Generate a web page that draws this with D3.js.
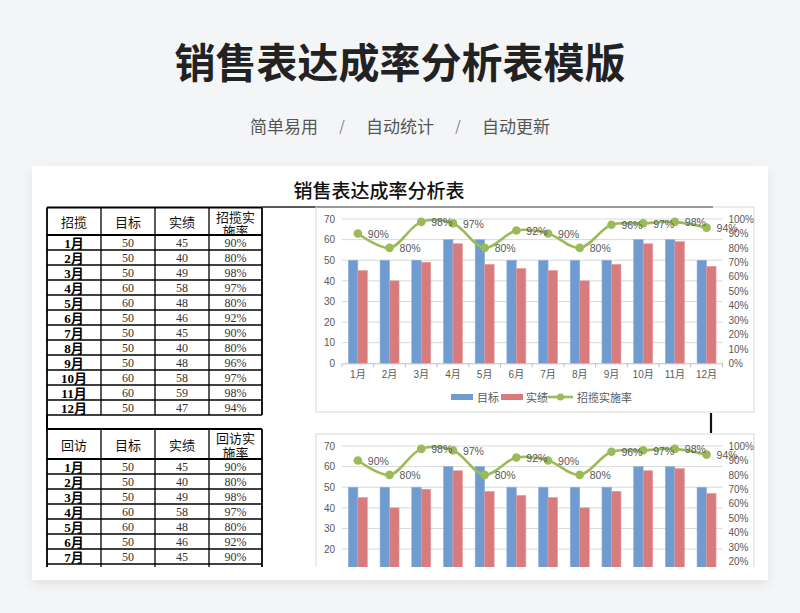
<!DOCTYPE html>
<html>
<head>
<meta charset="utf-8">
<script src="https://cdn.jsdelivr.net/npm/d3@7"></script>
<style>
  html, body { margin: 0; padding: 0; background: #f4f5f7; }
  svg { display: block; }
</style>
</head>
<body>
<svg id="page" width="800" height="613"></svg>
<script>
// ---- data ----
var months = ["1月","2月","3月","4月","5月","6月","7月","8月","9月","10月","11月","12月"];
var target = [50, 50, 50, 60, 60, 50, 50, 50, 50, 60, 60, 50];
var actual = [45, 40, 49, 58, 48, 46, 45, 40, 48, 58, 59, 47];
var rate   = [90, 80, 98, 97, 80, 92, 90, 80, 96, 97, 98, 94];
var leftTicks  = [0, 10, 20, 30, 40, 50, 60, 70];
var rightTicks = [0, 10, 20, 30, 40, 50, 60, 70, 80, 90, 100];
var head1 = ["招揽", "目标", "实绩", ["招揽实", "施率"]];
var head2 = ["回访", "目标", "实绩", ["回访实", "施率"]];
var series1 = ["目标", "实绩", "招揽实施率"];
var series2 = ["目标", "实绩", "回访实施率"];
var subtitleParts = ["简单易用", "/", "自动统计", "/", "自动更新"];

var sans = "'Liberation Sans', 'Noto Sans CJK SC', sans-serif",
    serif = "'Liberation Serif', 'Noto Sans CJK SC', serif",
    cjk = "'Noto Sans CJK SC', sans-serif",
    blue = "#709bd1", red = "#d87b7c", green = "#9bbb59", grey = "#595959",
    shotBottom = 567;   // the spreadsheet picture is cut off here

var svg = d3.select("#page");
var defs = svg.append("defs");

defs.append("filter").attr("id", "shadow")
    .attr("x", "-5%").attr("y", "-5%").attr("width", "110%").attr("height", "115%")
  .append("feDropShadow")
    .attr("dx", 0).attr("dy", 4).attr("stdDeviation", 6)
    .attr("flood-color", "#000").attr("flood-opacity", 0.08);

defs.append("clipPath").attr("id", "shot")
  .append("rect").attr("x", 32).attr("y", 166).attr("width", 736).attr("height", shotBottom - 166);

// ---- page header ----
svg.append("text")
    .attr("x", 400).attr("y", 60)
    .attr("text-anchor", "middle").attr("dominant-baseline", "central")
    .style("font-family", cjk).style("font-weight", 700).style("font-size", "41px")
    .style("fill", "#222")
    .text("销售表达成率分析表模版");

var subX = d3.scalePoint().domain(d3.range(subtitleParts.length)).range([284, 516]);
svg.append("g").selectAll("text")
    .data(subtitleParts)
    .enter().append("text")
    .attr("x", function(d, i) { return subX(i); })
    .attr("y", 125)
    .attr("text-anchor", "middle").attr("dominant-baseline", "central")
    .style("font-family", cjk).style("font-size", function(d) { return d === "/" ? "14px" : "17px"; })
    .style("fill", function(d) { return d === "/" ? "#777" : "#555"; })
    .text(function(d) { return d; });

// ---- card ----
svg.append("rect")
    .attr("x", 32).attr("y", 166).attr("width", 736).attr("height", 414)
    .attr("fill", "#fff").attr("filter", "url(#shadow)");

var shot = svg.append("g").attr("clip-path", "url(#shot)");

shot.append("text")
    .attr("x", 379).attr("y", 189)
    .attr("text-anchor", "middle").attr("dominant-baseline", "central")
    .style("font-family", cjk).style("font-weight", 500).style("font-size", "19px")
    .style("fill", "#111")
    .text("销售表达成率分析表");

// ---- tables ----
var colX = [47, 101, 155, 209, 262],
    rowH = 15;

function drawTable(g, top, headH, heads, id) {
    var bodyTop = top + headH,
        bottom = bodyTop + months.length * rowH,
        t = g.append("g");

    defs.append("clipPath").attr("id", "head" + id)
      .append("rect").attr("x", colX[3]).attr("y", top).attr("width", colX[4] - colX[3]).attr("height", headH - 1);

    // header labels
    heads.forEach(function(h, i) {
        var cx = (colX[i] + colX[i + 1]) / 2;
        if (Array.isArray(h)) {
            t.append("g").attr("clip-path", "url(#head" + id + ")")
              .selectAll("text").data(h).enter().append("text")
                .attr("x", cx)
                .attr("y", function(d, j) { return top + 8.5 + j * 14.5; })
                .attr("text-anchor", "middle").attr("dominant-baseline", "central")
                .style("font-family", cjk).style("font-size", "13px").style("fill", "#111")
                .text(function(d) { return d; });
        } else {
            t.append("text")
                .attr("x", cx).attr("y", top + headH / 2)
                .attr("text-anchor", "middle").attr("dominant-baseline", "central")
                .style("font-family", cjk).style("font-size", "13px").style("fill", "#111")
                .text(h);
        }
    });

    var rows = t.selectAll("g.row")
        .data(months)
        .enter().append("g")
        .attr("class", "row")
        .attr("transform", function(d, i) { return "translate(0," + (bodyTop + i * rowH) + ")"; });

    rows.append("text")
        .attr("x", (colX[0] + colX[1]) / 2).attr("y", rowH / 2 + 0.5)
        .attr("text-anchor", "middle").attr("dominant-baseline", "central")
        .style("font-family", serif).style("font-weight", 700).style("font-size", "13px").style("fill", "#000")
        .text(function(d) { return d; });

    var cells = [target, actual, rate];
    cells.forEach(function(arr, c) {
        rows.append("text")
            .attr("x", (colX[c + 1] + colX[c + 2]) / 2).attr("y", rowH / 2 + 0.5)
            .attr("text-anchor", "middle").attr("dominant-baseline", "central")
            .style("font-family", serif).style("font-size", "12px").style("fill", "#333")
            .text(function(d, i) { return c === 2 ? arr[i] + "%" : arr[i]; });
    });

    // grid lines
    var ys = [top, bodyTop].concat(months.map(function(d, i) { return bodyTop + (i + 1) * rowH; }));
    t.selectAll("line.h").data(ys).enter().append("line")
        .attr("x1", colX[0]).attr("x2", colX[4])
        .attr("y1", function(d) { return d; }).attr("y2", function(d) { return d; })
        .attr("stroke", "#000").attr("stroke-width", function(d, i) { return i < 2 ? 1.8 : 1.3; });
    t.selectAll("line.v").data(colX).enter().append("line")
        .attr("x1", function(d) { return d; }).attr("x2", function(d) { return d; })
        .attr("y1", top).attr("y2", bottom)
        .attr("stroke", "#000").attr("stroke-width", function(d, i) { return (i === 0 || i === 4) ? 1.8 : 1.3; });
}

drawTable(shot, 207.5, 27.5, head1, 1);
drawTable(shot, 429, 30, head2, 2);

// blank spacer row between the two tables
shot.append("line").attr("x1", colX[0]).attr("x2", colX[0]).attr("y1", 415).attr("y2", 429)
    .attr("stroke", "#000").attr("stroke-width", 2);
// spreadsheet cell borders running out to the right
shot.append("line").attr("x1", colX[4]).attr("x2", 713).attr("y1", 207).attr("y2", 207)
    .attr("stroke", "#222").attr("stroke-width", 1.6);
shot.append("line").attr("x1", 711).attr("x2", 711).attr("y1", 413).attr("y2", 433)
    .attr("stroke", "#111").attr("stroke-width", 2.2);

// ---- charts ----
function drawChart(g, top, names) {
    var plotTop = top + 12, plotBottom = top + 156.3,
        c = g.append("g");

    c.append("rect")
        .attr("x", 316).attr("y", top).attr("width", 438).attr("height", 205)
        .attr("fill", "none").attr("stroke", "#d9d9d9").attr("stroke-width", 1);

    var x0 = d3.scaleBand().domain(months).range([342, 722.4]),
        x1 = d3.scaleBand().domain(["target", "actual"]).range([0, x0.bandwidth()]).paddingOuter(0.67),
        yL = d3.scaleLinear().domain([0, 70]).range([plotBottom, plotTop]),
        yR = d3.scaleLinear().domain([0, 100]).range([plotBottom, plotTop]);

    // gridlines
    c.append("g").selectAll("line")
        .data(leftTicks.slice(1))
        .enter().append("line")
        .attr("x1", 342).attr("x2", 722.4)
        .attr("y1", function(d) { return yL(d); }).attr("y2", function(d) { return yL(d); })
        .attr("stroke", "#d9d9d9").attr("stroke-width", 1);

    // bars
    var bars = c.append("g").selectAll("g")
        .data(months)
        .enter().append("g")
        .attr("transform", function(d) { return "translate(" + x0(d) + ",0)"; });
    bars.append("rect")
        .attr("x", x1("target")).attr("width", x1.bandwidth())
        .attr("y", function(d, i) { return yL(target[i]); })
        .attr("height", function(d, i) { return plotBottom - yL(target[i]); })
        .attr("fill", blue).attr("stroke", "#8fb1dc").attr("stroke-width", 0.6);
    bars.append("rect")
        .attr("x", x1("actual")).attr("width", x1.bandwidth())
        .attr("y", function(d, i) { return yL(actual[i]); })
        .attr("height", function(d, i) { return plotBottom - yL(actual[i]); })
        .attr("fill", red).attr("stroke", "#e39a9b").attr("stroke-width", 0.6);

    // x axis
    var xAxis = c.append("g")
        .attr("transform", "translate(0," + plotBottom + ")")
        .call(d3.axisBottom(x0).tickSize(0).tickPadding(8));
    xAxis.select(".domain").attr("stroke", "#bfbfbf");
    xAxis.selectAll("text").style("font-family", sans).style("font-size", "10px").style("fill", grey);
    var edges = months.map(function(d) { return x0(d); }).concat([x0.range()[1]]);
    xAxis.selectAll("line.edge").data(edges).enter().append("line")
        .attr("class", "edge")
        .attr("x1", function(d) { return d; }).attr("x2", function(d) { return d; })
        .attr("y1", 0).attr("y2", 4)
        .attr("stroke", "#bfbfbf");

    // left axis
    var aL = c.append("g")
        .attr("transform", "translate(342,0)")
        .call(d3.axisLeft(yL).tickValues(leftTicks).tickSize(0).tickPadding(7));
    aL.select(".domain").remove();
    aL.selectAll("text").style("font-family", sans).style("font-size", "10px").style("fill", grey);

    // right axis
    var aR = c.append("g")
        .attr("transform", "translate(722.4,0)")
        .call(d3.axisRight(yR).tickValues(rightTicks).tickSize(0).tickPadding(6)
            .tickFormat(function(d) { return d + "%"; }));
    aR.select(".domain").remove();
    aR.selectAll("text").style("font-family", sans).style("font-size", "10px").style("fill", grey);

    // rate line
    var cx = function(d, i) { return x0(months[i]) + x0.bandwidth() / 2; },
        cy = function(d) { return yR(d); };
    c.append("path")
        .datum(rate)
        .attr("d", d3.line().x(cx).y(cy).curve(d3.curveCatmullRom.alpha(0.5)))
        .attr("fill", "none").attr("stroke", green).attr("stroke-width", 2.6);
    c.append("g").selectAll("circle")
        .data(rate)
        .enter().append("circle")
        .attr("cx", cx).attr("cy", cy).attr("r", 4.3)
        .attr("fill", green);
    c.append("g").selectAll("text")
        .data(rate)
        .enter().append("text")
        .attr("x", function(d, i) { return cx(d, i) + 10; })
        .attr("y", function(d) { return cy(d) + 0.5; })
        .attr("dominant-baseline", "central")
        .style("font-family", sans).style("font-size", "10.5px").style("fill", grey)
        .text(function(d) { return d + "%"; });

    // legend
    var ly = top + 190,
        lg = c.append("g");
    lg.append("rect").attr("x", 451).attr("y", ly - 3).attr("width", 22).attr("height", 6).attr("fill", blue);
    lg.append("rect").attr("x", 501).attr("y", ly - 3).attr("width", 22).attr("height", 6).attr("fill", red);
    lg.append("line").attr("x1", 548).attr("x2", 573).attr("y1", ly).attr("y2", ly)
        .attr("stroke", green).attr("stroke-width", 2.6);
    lg.append("circle").attr("cx", 560.5).attr("cy", ly).attr("r", 3.6).attr("fill", green);
    lg.selectAll("text")
        .data(names)
        .enter().append("text")
        .attr("x", function(d, i) { return [477, 526, 577][i]; })
        .attr("y", ly)
        .attr("dominant-baseline", "central")
        .style("font-family", cjk).style("font-size", "11px").style("fill", grey)
        .text(function(d) { return d; });
}

drawChart(shot, 207, series1);
drawChart(shot, 434, series2);

// texts that fall below the cut of the spreadsheet picture are not visible at all
shot.selectAll("text").each(function() {
    var r = this.getBoundingClientRect();
    if (r.top + r.height / 2 > shotBottom) d3.select(this).remove();
});
</script>
</body>
</html>
